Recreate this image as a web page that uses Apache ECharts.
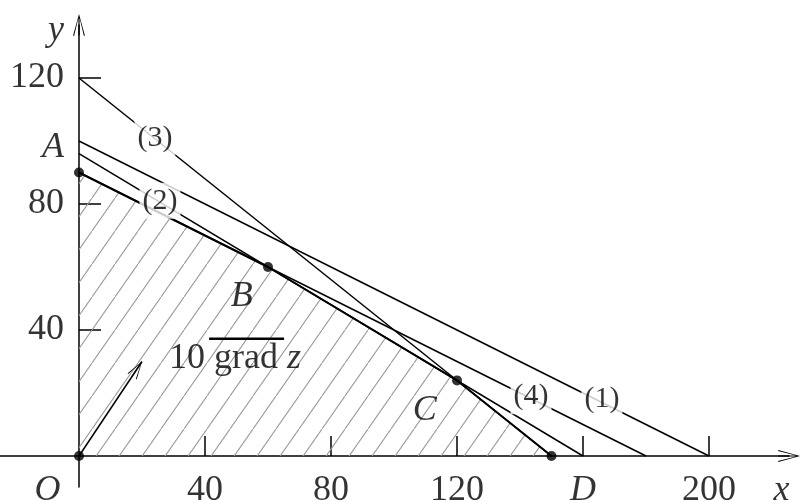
<!DOCTYPE html>
<html>
<head>
<meta charset="utf-8">
<script src="https://cdn.jsdelivr.net/npm/echarts@6/dist/echarts.min.js"></script>
<style>
  html, body { margin: 0; padding: 0; background: #fff; }
  #chart { width: 800px; height: 501px; }
</style>
</head>
<body>
<div id="chart"></div>
<script>
// constraint lines, end points on the axes
const line1 = [[0, 100], [200, 0]]
const line2 = [[0, 96], [160, 0]]
const line3 = [[0, 120], [150, 0]]
const line4 = [[0, 90], [180, 0]]
const lineNames = ['(1)', '(2)', '(3)', '(4)']
const lineLabelAt = [[166, 18], [25.7, 81], [24.1, 101], [143.5, 19]]

// feasible region (upper boundary, filled down to the x axis)
const region = [[0, 90], [60, 60], [120, 24], [150, 0]]
const vertices = [[0, 0], [0, 90], [60, 60], [120, 24], [150, 0]]

// vector 10 grad z
const gradVec = [20, 30]
const gradLabelAt = [49.5, 31]
const gradBar = [[41.3, 37.2], [65.1, 37.2]]

const pointNames = ['B', 'C']
const pointLabelAt = [[51.7, 50.5], [109.8, 14.5]]

// axes
const xTickValues = [40, 80, 120, 160, 200]
const xLabelValues = [-10, 40, 80, 120, 160, 200, 223]
const xLabelTexts = ['{i|O}', '40', '80', '120', '{i|D}', '200', '{i|x}']
const yTickValues = [40, 80, 120]
const yLabelValues = [40, 80, 98, 120, 135]
const yLabelTexts = ['40', '80', '{i|A}', '120', '{i|y}']

const FONT = 'Liberation Serif'
const arrowPath = 'path://M0,0 L6,22 L5,22.4 L0.6,4 L0.6,22 L-0.6,22 L-0.6,4 L-5,22.4 L-6,22 Z'
// same arrow, padded so its tip sits on the end point
const arrowTipPath = arrowPath + ' M0,-22.4 L0.01,-22.4 L0,-22.39 Z'

// hatch pattern for the region
const hatch = document.createElement('canvas')
hatch.width = 23
hatch.height = 33
const hc = hatch.getContext('2d')
hc.strokeStyle = '#9a9a9a'
hc.lineWidth = 1.1
hc.beginPath()
hc.moveTo(-23, 66)
hc.lineTo(46, -33)
hc.stroke()

const chart = echarts.init(document.getElementById('chart'))

const textRich = {
  n: { fontFamily: FONT, fontSize: 36, color: '#000' },
  i: { fontFamily: FONT, fontSize: 36, fontStyle: 'italic', color: '#000' }
}
const plain = (t) => (t.startsWith('{') ? t : '{n|' + t + '}')

const lineSeries = [line1, line2, line3, line4].map((d, i) => ({
  name: lineNames[i],
  type: 'line',
  data: d,
  symbol: 'none',
  silent: true,
  lineStyle: { color: '#000', width: 1.5 },
  z: 3
}))

const axisLineStyle = {
  onZero: true,
  symbol: ['none', arrowPath],
  symbolSize: [12, 22],
  lineStyle: { color: '#000', width: 1.5 }
}

const option = {
  animation: false,
  backgroundColor: '#fff',
  grid: { left: 0, right: 11, top: 25, bottom: 14 },
  xAxis: {
    type: 'value',
    min: -25.08,
    max: 225.4,
    splitLine: { show: false },
    axisLine: axisLineStyle,
    axisTick: {
      inside: true,
      length: 20,
      customValues: xTickValues,
      lineStyle: { color: '#000', width: 1.5 }
    },
    axisLabel: { show: false }
  },
  yAxis: {
    type: 'value',
    min: -9.84,
    max: 136.83,
    splitLine: { show: false },
    axisLine: axisLineStyle,
    axisTick: {
      inside: true,
      length: 22,
      customValues: yTickValues,
      lineStyle: { color: '#000', width: 1.5 }
    },
    axisLabel: { show: false }
  },
  series: [
    {
      name: 'region',
      type: 'line',
      data: region,
      symbol: 'none',
      silent: true,
      lineStyle: { color: '#000', width: 2 },
      areaStyle: { color: { image: hatch, repeat: 'repeat' }, opacity: 1 },
      z: 2,
      markLine: {
        silent: true,
        symbol: ['none', arrowTipPath],
        symbolSize: [11, 36],
        label: { show: false },
        lineStyle: { color: '#000', width: 1.5, type: 'solid' },
        data: [[{ coord: [0, 0] }, { coord: gradVec }]]
      }
    },
    ...lineSeries,
    {
      name: 'overline',
      type: 'line',
      data: gradBar,
      symbol: 'none',
      silent: true,
      lineStyle: { color: '#000', width: 2.5 },
      z: 5
    },
    {
      name: 'vertices',
      type: 'scatter',
      data: vertices,
      symbol: 'circle',
      symbolSize: 10,
      itemStyle: { color: '#000' },
      silent: true,
      z: 6
    },
    {
      // x axis tick labels
      name: 'xLabels',
      type: 'scatter',
      clip: false,
      data: xLabelValues.map((v, i) => ({ value: [v, 0], name: xLabelTexts[i] })),
      symbolSize: 0,
      silent: true,
      label: {
        show: true,
        position: 'bottom',
        distance: 17,
        formatter: (p) => plain(p.name),
        rich: textRich
      }
    },
    {
      // y axis tick labels
      name: 'yLabels',
      type: 'scatter',
      clip: false,
      data: yLabelValues.map((v, i) => ({ value: [0, v], name: yLabelTexts[i] })),
      symbolSize: 0,
      silent: true,
      label: {
        show: true,
        position: 'left',
        distance: 15,
        formatter: (p) => plain(p.name),
        rich: textRich
      }
    },
    {
      name: 'lineLabels',
      type: 'scatter',
      data: lineLabelAt.map((p, i) => ({ value: p, name: lineNames[i] })),
      symbolSize: 0,
      silent: true,
      z: 7,
      label: {
        show: true,
        position: 'inside',
        formatter: '{b}',
        color: '#000',
        fontFamily: FONT,
        fontSize: 30,
        backgroundColor: '#fff',
        padding: [3, 3]
      }
    },
    {
      name: 'pointLabels',
      type: 'scatter',
      data: pointLabelAt.map((p, i) => ({ value: p, name: pointNames[i] })),
      symbolSize: 0,
      silent: true,
      z: 7,
      label: {
        show: true,
        position: 'inside',
        formatter: '{b}',
        color: '#000',
        fontFamily: FONT,
        fontSize: 36,
        fontStyle: 'italic'
      }
    },
    {
      name: 'gradLabel',
      type: 'scatter',
      data: [{ value: gradLabelAt, name: '10 grad z' }],
      symbolSize: 0,
      silent: true,
      z: 7,
      label: {
        show: true,
        position: 'inside',
        formatter: '{n|10 grad }{i|z}',
        rich: textRich
      }
    }
  ]
}

chart.setOption(option)
</script>
</body>
</html>
